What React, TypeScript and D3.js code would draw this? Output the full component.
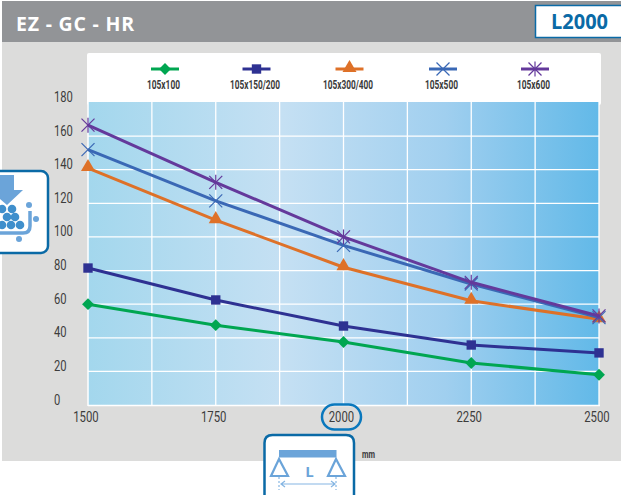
import React from "react";
import * as d3 from "d3";

const lengths = [1500, 1750, 2000, 2250, 2500];
const names = ["105x100", "105x150/200", "105x300/400", "105x500", "105x600"];
const s100 = [60, 47.5, 37.5, 25, 18];
const s150 = [81.5, 62.5, 47, 35.7, 31];
const s300 = [141, 110, 82, 62, 51];
const s500 = [152, 121.5, 95, 72, 52];
const s600 = [166.5, 132.5, 100, 73, 53];
const colors = ["#00a651", "#2e3192", "#de7128", "#3a68b5", "#64399b"];
const kinds = ["diamond", "square", "triangle", "x", "star"];
const yTicks = [0, 20, 40, 60, 80, 100, 120, 140, 160, 180];
const xGrid = [1625, 1750, 1875, 2000, 2125, 2250, 2375, 2500];

const x = d3.scaleLinear().domain([1500, 2500]).range([88, 599]);
const y = d3.scaleLinear().domain([0, 180]).range([405, 102.5]);
const FONT = "Roboto,sans-serif";

function Marker({ kind, cx, cy, color }: { kind: string; cx: number; cy: number; color: string }) {
  const t = `translate(${cx},${cy})`;
  if (kind === "diamond") return <path d={d3.symbol(d3.symbolDiamond2, 90)()!} transform={t} fill={color} />;
  if (kind === "square") return <path d={d3.symbol(d3.symbolSquare, 88)()!} transform={t} fill={color} />;
  if (kind === "triangle")
    return <path d={d3.symbol(d3.symbolTriangle, 85)()!} transform={`translate(${cx},${cy - 1})`} fill={color} />;
  const r = 6.5;
  return (
    <g transform={t} stroke={color} strokeWidth={1.2} fill="none">
      <line x1={-r} y1={-r} x2={r} y2={r} />
      <line x1={-r} y1={r} x2={r} y2={-r} />
      {kind === "star" && <line x1={0} y1={-r - 1} x2={0} y2={r + 1} />}
    </g>
  );
}

export default function App() {
  const series = [s100, s150, s300, s500, s600];
  const line = d3
    .line<number>()
    .x((_, i) => x(lengths[i]))
    .y((v) => y(v));
  const legendX = [165, 256.5, 349.5, 443, 535];
  const blue = "#0a6aa6";
  const icon = "#6ba4d9";
  return (
    <svg width={621} height={495} style={{ position: "absolute", left: 0, top: 0 }} fontFamily={FONT}>
      <defs>
        <linearGradient id="bg" x1="0" x2="1" y1="0" y2="0">
          <stop offset="0" stopColor="#a3d7ed" />
          <stop offset="0.38" stopColor="#c5e0f3" />
          <stop offset="0.7" stopColor="#a0cfef" />
          <stop offset="1" stopColor="#62b9e8" />
        </linearGradient>
      </defs>
      <rect width={621} height={495} fill="#fff" />
      <rect x={2} y={42} width={619} height={419} fill="#dcdcdb" />
      <rect x={2} y={1} width={619} height={41} fill="#929497" />
      <text x={16} y={31} fill="#fff" fontFamily="'Open Sans',sans-serif" fontWeight={700} fontSize={19.5}
        textLength={118} lengthAdjust="spacing">
        EZ - GC - HR
      </text>
      <rect x={535.5} y={5.5} width={90} height={32} fill="#fff" stroke={blue} strokeWidth={1.5} />
      <text x={551} y={29} fill={blue} fontFamily="'Open Sans',sans-serif" fontWeight={700} fontSize={21}
        textLength={57} lengthAdjust="spacingAndGlyphs">
        L2000
      </text>

      <rect x={87} y={53} width={514} height={52} rx={2} fill="#fff" />
      <rect x={88} y={102} width={511} height={303} fill="url(#bg)" />
      {yTicks.slice(1, -1).map((t) => (
        <line key={t} x1={88} x2={599} y1={y(t)} y2={y(t)} stroke="#fff" strokeWidth={1.3} />
      ))}
      {xGrid.map((t) => (
        <line key={t} x1={x(t)} x2={x(t)} y1={102} y2={405} stroke="#fff" strokeWidth={1.3} />
      ))}
      <line x1={88} x2={88} y1={102} y2={406} stroke="#fff" strokeWidth={1.5} />
      <line x1={88} x2={600} y1={405.5} y2={405.5} stroke="#fff" strokeWidth={1.5} />

      {yTicks.map((t) => {
        const label = String(t);
        return (
          <text key={t} x={54} y={y(t) - 0.5} fontSize={15.5} fill="#3c3c3c"
            textLength={label.length * 6.3} lengthAdjust="spacingAndGlyphs">
            {label}
          </text>
        );
      })}
      {lengths.map((t) => (
        <text key={t} x={x(t) - 2} y={422} textAnchor="middle" fontSize={15.5} fill="#3c3c3c"
          textLength={25.5} lengthAdjust="spacingAndGlyphs">
          {t}
        </text>
      ))}

      <rect x={322} y={404.5} width={39} height={25} rx={12.5} fill="none" stroke="#0a78bd" strokeWidth={2.5} />

      {series.map((vals, i) => (
        <g key={names[i]}>
          <path d={line(vals)!} fill="none" stroke={colors[i]} strokeWidth={3} />
          {vals.map((v, j) => (
            <Marker key={j} kind={kinds[i]} cx={x(lengths[j])} cy={y(v)} color={colors[i]} />
          ))}
          <line x1={legendX[i] - 14} x2={legendX[i] + 14} y1={69} y2={69} stroke={colors[i]} strokeWidth={3} />
          <Marker kind={kinds[i]} cx={legendX[i]} cy={69} color={colors[i]} />
          <text x={legendX[i] - 1.5} y={89} textAnchor="middle" fontSize={13.5} fontWeight={700} fill="#3a3a3a"
            textLength={names[i].length > 7 ? 50 : 33} lengthAdjust="spacingAndGlyphs">
            {names[i]}
          </text>
        </g>
      ))}

      {/* load icon */}
      <rect x={-12} y={171} width={60} height={82} rx={7} fill="#fff" stroke={blue} strokeWidth={2.5} />
      <path d="M0,175 H14 V190 H23 L7,205 L0,199 Z" fill={icon} />
      {[[2, 209], [12, 209], [7, 217], [15, 217], [2, 225], [11, 225], [20, 225]].map(([a, b], i) => (
        <circle key={i} cx={a} cy={b} r={4.3} fill="#3f8fcc" />
      ))}
      <path d="M30,211 V226 Q30,233 23,233 H0" fill="none" stroke={icon} strokeWidth={3.5} />
      <circle cx={29} cy={205} r={3} fill={icon} />
      <circle cx={36} cy={219} r={3} fill={icon} />
      <circle cx={19} cy={239} r={3} fill={icon} />

      {/* span icon */}
      <path d="M264.5,500 V443 Q264.5,435 272.5,435 H346 Q354,435 354,443 V500" fill="#fff" stroke={blue} strokeWidth={2.5} />
      <rect x={279} y={450} width={57.5} height={7.5} fill={icon} />
      <path d="M279,459 L271,476 H288 Z M336,459 L328,476 H345 Z" fill="none" stroke={icon} strokeWidth={2.2} />
      <text x={309.5} y={477} textAnchor="middle" fontFamily="'Open Sans',sans-serif" fontWeight={700} fontSize={15} fill={icon}>
        L
      </text>
      <path d="M281,484 H335 M285,481 L281,484 L285,487 M331,481 L335,484 L331,487" fill="none" stroke="#86b6e3" strokeWidth={1.2} />
      <path d="M279,477 V490 M336,477 V490" stroke="#86b6e3" strokeWidth={1.2} strokeDasharray="2 2" />
      <text x={362} y={458} fontSize={10.5} fontWeight={700} fill="#3a3a3a" textLength={13} lengthAdjust="spacingAndGlyphs">
        mm
      </text>
    </svg>
  );
}
